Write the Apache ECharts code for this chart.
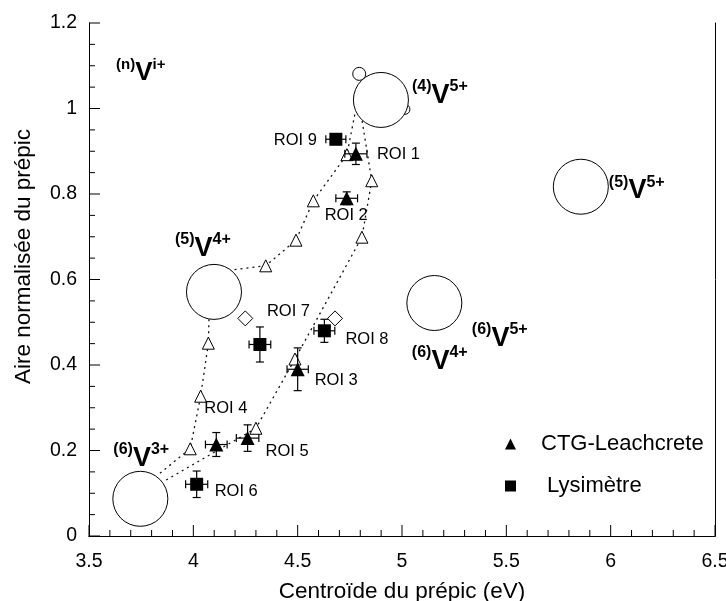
<!DOCTYPE html>
<html>
<head>
<meta charset="utf-8">
<script src="https://cdn.jsdelivr.net/npm/echarts@6/dist/echarts.min.js"></script>
<style>
html, body { margin: 0; padding: 0; background: #fff; }
#main { width: 726px; height: 601px; }
</style>
</head>
<body>
<div id="main"></div>
<script>
// CTG-Leachcrete (ROI 1 a 5)
var ctgX = [4.779, 4.735, 4.500, 4.110, 4.260];
var ctgY = [0.894, 0.790, 0.390, 0.214, 0.229];
var ctgXErr = [0.053, 0.052, 0.051, 0.052, 0.054];
var ctgYErr = [0.025, 0.015, 0.050, 0.028, 0.031];
var ctgNames = ['ROI 1', 'ROI 2', 'ROI 3', 'ROI 4', 'ROI 5'];

// Lysimetre (ROI 6 a 9)
var lysX = [4.016, 4.319, 4.628, 4.683];
var lysY = [0.121, 0.448, 0.480, 0.928];
var lysXErr = [0.053, 0.052, 0.050, 0.048];
var lysYErr = [0.031, 0.041, 0.027, 0];
var lysNames = ['ROI 6', 'ROI 7', 'ROI 8', 'ROI 9'];

// composes de reference (triangles ouverts), branche gauche et droite
var refAX = [3.985, 4.035, 4.072, 4.347, 4.492, 4.575, 4.736];
var refAY = [0.204, 0.327, 0.451, 0.632, 0.692, 0.784, 0.892];
var refBX = [4.300, 4.487, 4.808, 4.855];
var refBY = [0.252, 0.414, 0.699, 0.831];
// losanges
var diamX = [4.249, 4.679];
var diamY = [0.509, 0.509];

// grands cercles (sites du vanadium)
var siteX = [3.746, 4.099, 4.899, 5.857, 5.155];
var siteY = [0.087, 0.571, 1.020, 0.817, 0.545];
var siteCoord = ['(6)', '(5)', '(4)', '(5)', '(6)'];
var siteCharge = ['3+', '4+', '5+', '5+', '4+'];
var sharedCharge = '5+';   // le cercle (6) porte aussi V5+
// petits cercles
var smallX = [4.795, 5.014];
var smallY = [1.081, 0.998];

// raccords des pointilles sur le bord des cercles
var linkAX = [3.840, 4.075, 4.176, 4.775];
var linkAY = [0.147, 0.508, 0.622, 0.989];
var linkBX = [3.870, 4.807];
var linkBY = [0.131, 0.977];

// graduations des axes
var xTicks = [3.5, 4, 4.5, 5, 5.5, 6, 6.5];
var yTicks = [0, 0.2, 0.4, 0.6, 0.8, 1.0, 1.2];
var xMinorPerStep = 5;
var yMinorPerStep = 4;

function pts(xs, ys) {
	var out = [];
	for (var i = 0; i < xs.length; i++) out.push([xs[i], ys[i]]);
	return out;
}

var refA = pts(refAX, refAY);
var refB = pts(refBX, refBY);
var linkA = pts(linkAX, linkAY);
var linkB = pts(linkBX, linkBY);
var pathA = [linkA[0]].concat(refA.slice(0, 3), [linkA[1], linkA[2]], refA.slice(3), [linkA[3]]);
var pathB = [linkB[0]].concat(refB, [linkB[1]]);

// ticks : [x, y, sens (0 = axe x, 1 = axe y), longueur]
function tickData() {
	var out = [];
	var i, k, a, b;
	for (i = 0; i < xTicks.length; i++) {
		out.push([xTicks[i], yTicks[0], 0, 11]);
		if (i < xTicks.length - 1) {
			a = xTicks[i]; b = xTicks[i + 1];
			for (k = 1; k < xMinorPerStep; k++) out.push([a + (b - a) * k / xMinorPerStep, yTicks[0], 0, 6]);
		}
	}
	for (i = 0; i < yTicks.length; i++) {
		out.push([xTicks[0], yTicks[i], 1, 11]);
		if (i < yTicks.length - 1) {
			a = yTicks[i]; b = yTicks[i + 1];
			for (k = 1; k < yMinorPerStep; k++) out.push([xTicks[0], a + (b - a) * k / yMinorPerStep, 1, 6]);
		}
	}
	return out;
}

function renderTick(params, api) {
	var p = api.coord([api.value(0), api.value(1)]);
	var len = api.value(3);
	var shape = api.value(2) === 0
		? { x1: p[0], y1: p[1], x2: p[0], y2: p[1] - len }
		: { x1: p[0], y1: p[1], x2: p[0] + len, y2: p[1] };
	return { type: 'line', shape: shape, style: { stroke: '#000', lineWidth: 1 } };
}

var FONT = "'Liberation Sans', Arial, sans-serif";

// position des etiquettes ROI : [dx, dy, align]
var roiPos = {
	'ROI 1': [21, 1, 'left'],
	'ROI 2': [-22, 17, 'left'],
	'ROI 3': [17, 11, 'left'],
	'ROI 4': [-12, -36, 'left'],
	'ROI 5': [18, 13, 'left'],
	'ROI 6': [18, 7, 'left'],
	'ROI 7': [7, -33, 'left'],
	'ROI 8': [21, 9, 'left'],
	'ROI 9': [-19, 1, 'right']
};

function roiData(xs, ys, names) {
	var out = [];
	for (var i = 0; i < xs.length; i++) {
		var p = roiPos[names[i]];
		out.push({
			value: [xs[i], ys[i]],
			name: names[i],
			label: { show: true, position: 'inside', align: p[2], verticalAlign: 'middle', offset: [p[0], p[1]] }
		});
	}
	return out;
}

function errData(xs, ys, ex, ey) {
	var out = [];
	for (var i = 0; i < xs.length; i++) out.push([xs[i], ys[i], ex[i], ey[i]]);
	return out;
}

// decalage des etiquettes des cercles
var siteLabelPos = [[-27, -57], [-39, -60], [31, -21], [28, -12.5], [-22.5, 19]];

function siteData() {
	var out = [];
	for (var i = 0; i < siteX.length; i++) {
		var txt = '{p|' + siteCoord[i] + '}{v|V}{s|' + siteCharge[i] + '}';
		if (i === 4) {
			txt = '{gap|}{p|' + siteCoord[i] + '}{v|V}{s|' + sharedCharge + '}\n' + txt;
		}
		out.push({
			value: [siteX[i], siteY[i]],
			label: {
				show: true, position: 'inside', align: 'left', verticalAlign: 'top',
				offset: siteLabelPos[i], formatter: txt
			}
		});
	}
	return out;
}

var siteRich = {
	p: { fontSize: 16, fontWeight: 'bold', color: '#000', fontFamily: FONT, verticalAlign: 'top', lineHeight: 16 },
	s: { fontSize: 16, fontWeight: 'bold', color: '#000', fontFamily: FONT, verticalAlign: 'top', lineHeight: 16 },
	v: { fontSize: 27, fontWeight: 'bold', color: '#000', fontFamily: FONT, verticalAlign: 'top', lineHeight: 23, padding: [3, 0, 0, 0] },
	gap: { width: 60, lineHeight: 23 }
};

function errorBars(params, api) {
	var x = api.value(0), y = api.value(1), dx = api.value(2), dy = api.value(3);
	var c = api.coord([x, y]);
	var l = api.coord([x - dx, y])[0];
	var r = api.coord([x + dx, y])[0];
	var cap = 4;
	var st = { stroke: '#000', lineWidth: 1.2 };
	var ch = [
		{ type: 'line', shape: { x1: l, y1: c[1], x2: r, y2: c[1] }, style: st },
		{ type: 'line', shape: { x1: l, y1: c[1] - cap, x2: l, y2: c[1] + cap }, style: st },
		{ type: 'line', shape: { x1: r, y1: c[1] - cap, x2: r, y2: c[1] + cap }, style: st }
	];
	if (dy > 0) {
		var t = api.coord([x, y + dy])[1];
		var b = api.coord([x, y - dy])[1];
		ch.push({ type: 'line', shape: { x1: c[0], y1: t, x2: c[0], y2: b }, style: st });
		ch.push({ type: 'line', shape: { x1: c[0] - cap, y1: t, x2: c[0] + cap, y2: t }, style: st });
		ch.push({ type: 'line', shape: { x1: c[0] - cap, y1: b, x2: c[0] + cap, y2: b }, style: st });
	}
	return { type: 'group', children: ch };
}

var myChart = echarts.init(document.getElementById('main'));
var dotted = { color: '#111', width: 1.3, type: [2, 4] };

function labelAxis(min, max, interval, pos) {
	return {
		type: 'value', min: min, max: max, interval: interval, position: pos,
		axisLine: { show: true, lineStyle: { color: '#000', width: 1 } },
		axisTick: { show: false },
		splitLine: { show: false },
		axisLabel: { fontSize: 19.5, color: '#000' }
	};
}
// cadre haut / droite
function frameAxis(min, max, pos) {
	return {
		type: 'value', min: min, max: max, position: pos,
		axisLine: { show: true, lineStyle: { color: '#000', width: 1 } },
		axisTick: { show: false }, axisLabel: { show: false }, splitLine: { show: false }
	};
}

var xAx = labelAxis(xTicks[0], xTicks[xTicks.length - 1], 0.5, 'bottom');
xAx.name = 'Centroïde du prépic (eV)';
xAx.nameLocation = 'middle';
xAx.nameGap = 44;
xAx.nameTextStyle = { fontSize: 22.5, color: '#000' };
xAx.axisLabel.margin = 16;

var yAx = labelAxis(yTicks[0], yTicks[yTicks.length - 1], 0.2, 'left');
yAx.name = 'Aire normalisée du prépic';
yAx.nameLocation = 'middle';
yAx.nameGap = 54;
yAx.nameTextStyle = { fontSize: 22.5, color: '#000', padding: [0, 0, 0, 46] };
yAx.axisLabel.margin = 12;

var option = {
	animation: false,
	textStyle: { fontFamily: FONT, color: '#000' },
	title: {
		left: 116, top: 57, padding: 0,
		text: '{p|(n)}{v|V}{s|i+}',
		textStyle: {
			rich: {
				p: { fontSize: 15, color: '#000', fontFamily: FONT, verticalAlign: 'top', lineHeight: 15 },
				s: { fontSize: 15, color: '#000', fontFamily: FONT, verticalAlign: 'top', lineHeight: 15 },
				v: { fontSize: 26, color: '#000', fontFamily: FONT, verticalAlign: 'top', lineHeight: 23, padding: [3, 0, 0, 0] }
			}
		}
	},
	grid: { left: 89, right: 11, top: 23, bottom: 65, outerBoundsMode: 'none', show: false },
	legend: {
		orient: 'vertical',
		left: 500, top: 428,
		itemWidth: 11, itemHeight: 11, itemGap: 20,
		data: ['CTG-Leachcrete', 'Lysimètre'],
		formatter: function (n) { return '{g|}' + (n === 'Lysimètre' ? ' ' + n : n); },
		textStyle: { fontSize: 22, color: '#000', fontFamily: FONT, rich: { g: { width: 20 } } }
	},
	xAxis: [xAx, frameAxis(xTicks[0], xTicks[xTicks.length - 1], 'top')],
	yAxis: [yAx, frameAxis(yTicks[0], yTicks[yTicks.length - 1], 'right')],
	series: [
		// graduations vers l'interieur
		{ type: 'custom', renderItem: renderTick, data: tickData(), z: 1, silent: true, clip: false },
		{ type: 'line', data: pathA, symbol: 'none', lineStyle: dotted, z: 1, silent: true },
		{ type: 'line', data: pathB, symbol: 'none', lineStyle: dotted, z: 1, silent: true },
		{
			type: 'scatter', data: pts(smallX, smallY), z: 2,
			symbolSize: function (v, p) { return p.dataIndex === 0 ? 13 : 10; },
			itemStyle: { color: '#fff', borderColor: '#000', borderWidth: 1, opacity: 1 }
		},
		{
			type: 'scatter', data: siteData(), symbolSize: 55, z: 3,
			itemStyle: { color: '#fff', borderColor: '#000', borderWidth: 1, opacity: 1 },
			label: { rich: siteRich }
		},
		{
			type: 'scatter', data: refA.concat(refB), symbol: 'triangle', symbolSize: 12, z: 4,
			itemStyle: { color: '#fff', borderColor: '#000', borderWidth: 1, opacity: 1 }
		},
		{
			type: 'scatter', data: pts(diamX, diamY), symbol: 'diamond', symbolSize: 15, z: 4,
			itemStyle: { color: '#fff', borderColor: '#000', borderWidth: 1, opacity: 1 }
		},
		{
			type: 'custom', renderItem: errorBars, z: 5, silent: true,
			data: errData(ctgX, ctgY, ctgXErr, ctgYErr).concat(errData(lysX, lysY, lysXErr, lysYErr))
		},
		{
			name: 'CTG-Leachcrete', type: 'scatter', symbol: 'triangle', symbolSize: 14, z: 6,
			data: roiData(ctgX, ctgY, ctgNames),
			itemStyle: { color: '#000', opacity: 1 },
			label: { fontSize: 16.5, color: '#000', formatter: '{b}' }
		},
		{
			name: 'Lysimètre', type: 'scatter', symbol: 'rect', symbolSize: 13, z: 6,
			data: roiData(lysX, lysY, lysNames),
			itemStyle: { color: '#000', opacity: 1 },
			label: { fontSize: 16.5, color: '#000', formatter: '{b}' }
		}
	]
};
myChart.setOption(option);
</script>
</body>
</html>
